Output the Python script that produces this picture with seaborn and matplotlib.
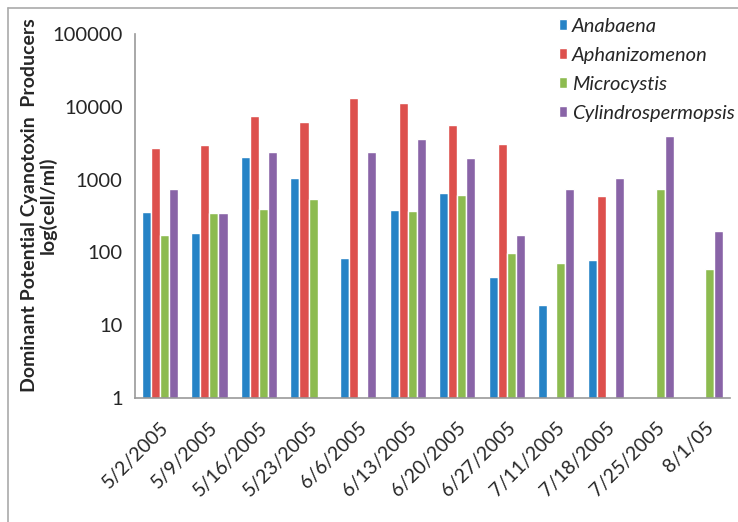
import numpy as np
import pandas as pd
import matplotlib
matplotlib.use('Agg')
import matplotlib.pyplot as plt
import seaborn as sns

# 数据
dates = ['5/2/2005', '5/9/2005', '5/16/2005', '5/23/2005', '6/6/2005', '6/13/2005',
         '6/20/2005', '6/27/2005', '7/11/2005', '7/18/2005', '7/25/2005', '8/1/05']
anabaena = [356, 185, 2020, 1040, 84, 386, 648, 46, 19, 79, np.nan, np.nan]
aphanizomenon = [2720, 2990, 7480, 6120, 13200, 11400, 5680, 3050, np.nan, 595, np.nan, np.nan]
microcystis = [172, 351, 395, 536, np.nan, 367, 614, 99, 71, np.nan, 750, 60]
cylindro = [750, 351, 2390, np.nan, 2390, 3610, 1980, 175, 735, 1040, 3930, 199]

species = ['Anabaena', 'Aphanizomenon', 'Microcystis', 'Cylindrospermopsis']
colors = ['#2683C6', '#DD504D', '#8DBB50', '#8964A7']

df = pd.DataFrame({'Date': dates, 'Anabaena': anabaena, 'Aphanizomenon': aphanizomenon,
                   'Microcystis': microcystis, 'Cylindrospermopsis': cylindro})
df = df.melt(id_vars='Date', var_name='Species', value_name='Cells')

sns.set_style('white')
plt.rcParams['font.family'] = ['Lato', 'DejaVu Sans']

fig = plt.figure(figsize=(7.38, 5.22), dpi=100)
ax = fig.add_axes([0.183, 0.2375, 0.806, 0.6975])

sns.barplot(data=df, x='Date', y='Cells', hue='Species', hue_order=species,
            palette=colors, width=0.73, ax=ax, saturation=1)
ax.set_yscale('log')
ax.set_ylim(1, 100000)
ax.set_yticks([1, 10, 100, 1000, 10000, 100000])
ax.set_yticklabels(['1', '10', '100', '1000', '10000', '100000'], fontsize=14.5)
ax.minorticks_off()
ax.tick_params(axis='y', length=0, pad=9)
ax.tick_params(axis='x', length=0, pad=15)
plt.setp(ax.get_xticklabels(), rotation=45, ha='right', rotation_mode='anchor', fontsize=14)

for s in ['top', 'right']:
    ax.spines[s].set_visible(False)
for s in ['left', 'bottom']:
    ax.spines[s].set_color('#999999')
    ax.spines[s].set_linewidth(1.2)

ax.set_xlabel('')
ax.set_ylabel('Dominant Potential Cyanotoxin  Producers\nlog(cell/ml)', fontsize=14,
              fontweight='bold', linespacing=1.05)
ax.yaxis.set_label_coords(-0.132, 0.53)

leg = ax.legend(loc='upper left', bbox_to_anchor=(0.712, 1.045), frameon=False,
                prop={'style': 'italic', 'size': 14.5}, handlelength=0.42, handleheight=0.42,
                handletextpad=0.25, labelspacing=0.6, borderaxespad=0, borderpad=0)

# 外框
fig.add_artist(plt.Line2D([8/738, 8/738], [0, 1 - 8/522], color='#AAAAAA', lw=1.2))
fig.add_artist(plt.Line2D([8/738, 1], [1 - 8/522, 1 - 8/522], color='#AAAAAA', lw=1.2))

plt.savefig('out.png', dpi=100)
